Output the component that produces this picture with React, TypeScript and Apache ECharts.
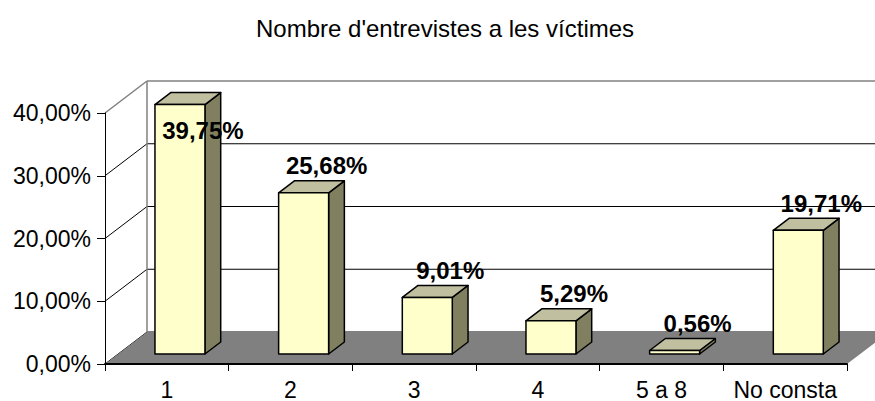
import React, { useEffect, useRef } from "react";
import * as echarts from "echarts";

const TITLE = "Nombre d'entrevistes a les víctimes";
const CATEGORIES = ["1", "2", "3", "4", "5 a 8", "No consta"];
const VALUES = [39.75, 25.68, 9.01, 5.29, 0.56, 19.71];
const Y_MIN = 0;
const Y_MAX = 40;
const Y_STEP = 10;
const WALL_LEVELS = [0, 10, 20, 30, 40];

// 3D look (layout constants)
const DX = 42;
const DY = -32;
const D0 = 0.3125;
const D1 = 0.6875;
const BAR_RATIO = 50 / 123.7;
const FONT = '"Liberation Sans", Arial, sans-serif';

const fmt = (v: number) => v.toFixed(2).replace(".", ",") + "%";

export default function App() {
  const ref = useRef<HTMLDivElement>(null);
  useEffect(() => {
    if (!ref.current) return;
    const chart = echarts.init(ref.current, null, { renderer: "svg" });

    const wallsRender = (params: any, api: any) => {
      const cs = params.coordSys;
      const x0 = cs.x;
      const x1 = cs.x + cs.width;
      const yb = api.coord([0, Y_MIN])[1];
      const yt = api.coord([0, Y_MAX])[1];
      const children: any[] = [];
      WALL_LEVELS.forEach((lv) => {
        const y = api.coord([0, lv])[1];
        const isTop = lv === Y_MAX;
        const stroke = isTop ? "#808080" : "#000";
        const lw = isTop ? 1.5 : 1;
        children.push({
          type: "line",
          shape: { x1: x0 + DX, y1: y + DY, x2: x1 + DX, y2: y + DY },
          style: { stroke, lineWidth: lw },
        });
        children.push({
          type: "line",
          shape: { x1: x0, y1: y, x2: x0 + DX, y2: y + DY },
          style: { stroke, lineWidth: lw },
        });
      });
      children.push({
        type: "line",
        shape: { x1: x0 + DX, y1: yt + DY, x2: x0 + DX, y2: yb + DY },
        style: { stroke: "#808080", lineWidth: 1.5 },
      });
      children.push({
        type: "polygon",
        shape: {
          points: [
            [x0, yb],
            [x1, yb],
            [x1 + DX, yb + DY],
            [x0 + DX, yb + DY],
          ],
        },
        style: { fill: "#808080", stroke: "none" },
      });
      return { type: "group", children };
    };

    const barsRender = (params: any, api: any) => {
      const idx = api.value(0);
      const val = api.value(1);
      const [cx, yBase] = api.coord([idx, 0]);
      const yTop = api.coord([idx, val])[1];
      const bw = api.size([1, 0])[0] * BAR_RATIO;
      const l = cx - bw / 2;
      const r = cx + bw / 2;
      const ax = DX * D0, ay = DY * D0;
      const bx = DX * D1, by = DY * D1;
      const border = { stroke: "#000", lineWidth: 1.5, lineJoin: "round" };
      const front = {
        type: "polygon",
        shape: {
          points: [
            [l + ax, yBase + ay],
            [r + ax, yBase + ay],
            [r + ax, yTop + ay],
            [l + ax, yTop + ay],
          ],
        },
        style: { fill: "#FFFFCC", ...border },
      };
      const top = {
        type: "polygon",
        shape: {
          points: [
            [l + ax, yTop + ay],
            [r + ax, yTop + ay],
            [r + bx, yTop + by],
            [l + bx, yTop + by],
          ],
        },
        style: { fill: "#C0C0A0", ...border },
      };
      const side = {
        type: "polygon",
        shape: {
          points: [
            [r + ax, yBase + ay],
            [r + bx, yBase + by],
            [r + bx, yTop + by],
            [r + ax, yTop + ay],
          ],
        },
        style: { fill: "#808060", ...border },
      };
      const wallTop = params.coordSys.y + DY;
      let baseline = yTop + by - 7;
      if (baseline - 17 < wallTop) baseline = yTop + ay + 34;
      const label = {
        type: "text",
        x: cx + ax + 23,
        y: baseline - 8,
        z2: 10,
        style: {
          text: fmt(val),
          fill: "#000",
          font: `bold 24px ${FONT}`,
          textAlign: "center",
          textVerticalAlign: "middle",
          align: "center",
          verticalAlign: "middle",
        },
      };
      return { type: "group", children: [side, top, front, label] };
    };

    chart.setOption({
      animation: false,
      backgroundColor: "#ffffff",
      title: {
        text: TITLE,
        left: 251,
        top: 11,
        textStyle: {
          fontFamily: FONT,
          fontSize: 24,
          fontWeight: "normal",
          color: "#000",
        },
      },
      grid: { left: 105, right: 28, top: 113, bottom: 35 },
      xAxis: {
        type: "category",
        data: CATEGORIES,
        z: 5,
        axisLine: { lineStyle: { color: "#000", width: 2 } },
        axisTick: { show: true, length: 7, interval: 0, lineStyle: { color: "#000" } },
        axisLabel: {
          interval: 0,
          margin: 14,
          fontFamily: FONT,
          fontSize: 23,
          color: "#000",
        },
        splitLine: { show: false },
      },
      yAxis: {
        type: "value",
        min: Y_MIN,
        max: Y_MAX,
        interval: Y_STEP,
        z: 5,
        axisLine: { show: true, lineStyle: { color: "#000", width: 1 } },
        axisTick: { show: true, length: 8, lineStyle: { color: "#000" } },
        axisLabel: {
          margin: 14,
          fontFamily: FONT,
          fontSize: 23,
          color: "#000",
          formatter: (v: number) => fmt(v),
        },
        splitLine: { show: false },
      },
      series: [
        {
          type: "custom",
          z: 1,
          silent: true,
          renderItem: wallsRender,
          data: [[0, 0]],
        },
        {
          type: "custom",
          z: 2,
          silent: true,
          renderItem: barsRender,
          data: VALUES.map((v, i) => [i, v]),
        },
      ],
    });
    return () => chart.dispose();
  }, []);
  return (
    <div
      ref={ref}
      style={{ position: "absolute", left: 0, top: 0, width: 875, height: 401 }}
    />
  );
}
